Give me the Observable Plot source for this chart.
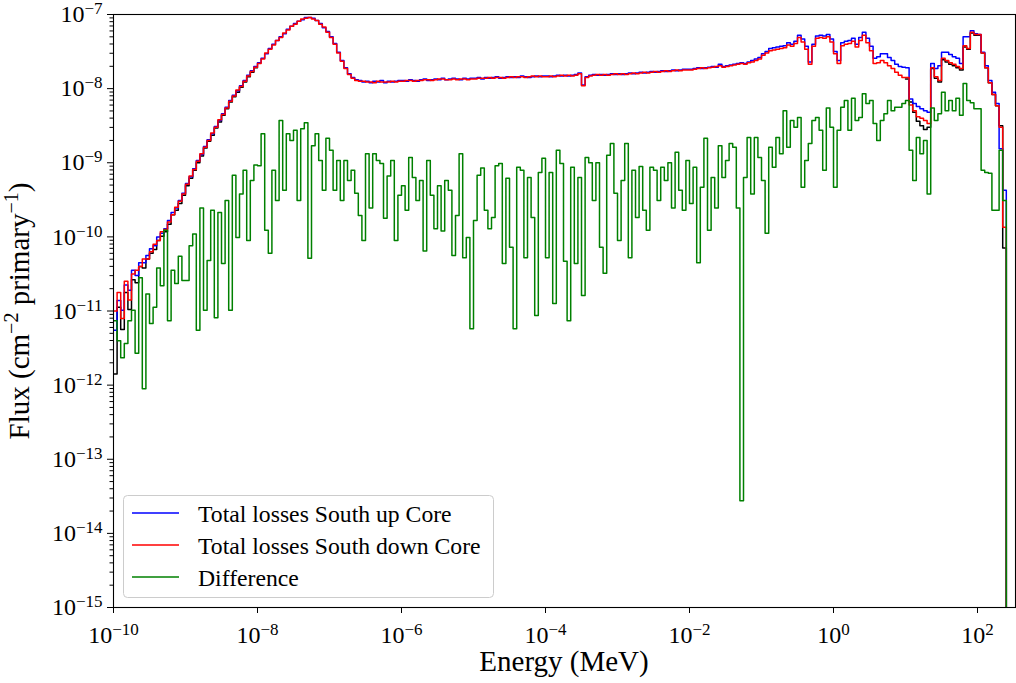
<!DOCTYPE html>
<html><head><meta charset="utf-8">
<script src="https://cdn.jsdelivr.net/npm/d3@7"></script>
<script src="https://cdn.jsdelivr.net/npm/@observablehq/plot@0.6"></script>
<style>
body{margin:0;background:#fff;}
#chart{width:1016px;height:683px;}
</style></head><body><div id="chart"></div>
<script>
// Binning: log10(E / MeV) bin edges start at -10 with width 0.05 decade
const logEStart = -10;
const logEStep = 0.05;

// log10 of flux (cm^-2 primary^-1) per bin
const upCore = [
 -11.26,-10.86,-10.99,-10.65,-10.72,-10.45,-10.52,-10.35,-10.35,-10.25,-10.16,-10.12,-10.00,-9.95,-9.89,-9.78,-9.67,-9.61,-9.51,-9.41,
 -9.28,-9.19,-9.08,-8.97,-8.89,-8.78,-8.69,-8.61,-8.51,-8.43,-8.34,-8.25,-8.16,-8.09,-8.03,-7.96,-7.89,-7.82,-7.76,-7.70,
 -7.65,-7.59,-7.53,-7.46,-7.40,-7.35,-7.30,-7.26,-7.20,-7.16,-7.12,-7.09,-7.07,-7.04,-7.04,-7.05,-7.08,-7.12,-7.18,-7.23,
 -7.30,-7.39,-7.51,-7.62,-7.72,-7.80,-7.85,-7.88,-7.89,-7.91,-7.90,-7.92,-7.90,-7.91,-7.89,-7.92,-7.90,-7.91,-7.90,-7.89,
 -7.89,-7.90,-7.88,-7.89,-7.90,-7.88,-7.87,-7.89,-7.88,-7.87,-7.88,-7.86,-7.88,-7.87,-7.86,-7.87,-7.88,-7.86,-7.87,-7.86,
 -7.86,-7.85,-7.87,-7.85,-7.86,-7.85,-7.84,-7.86,-7.85,-7.84,-7.85,-7.84,-7.85,-7.83,-7.84,-7.85,-7.84,-7.83,-7.84,-7.83,
 -7.83,-7.84,-7.83,-7.82,-7.83,-7.82,-7.83,-7.82,-7.81,-7.79,-7.95,-7.84,-7.82,-7.81,-7.82,-7.81,-7.82,-7.81,-7.80,-7.81,
 -7.80,-7.81,-7.80,-7.79,-7.80,-7.79,-7.78,-7.79,-7.78,-7.77,-7.78,-7.77,-7.76,-7.77,-7.76,-7.75,-7.76,-7.75,-7.74,-7.74,
 -7.74,-7.73,-7.72,-7.73,-7.72,-7.71,-7.70,-7.71,-7.67,-7.70,-7.69,-7.68,-7.67,-7.66,-7.65,-7.66,-7.64,-7.62,-7.60,-7.58,
 -7.53,-7.50,-7.46,-7.45,-7.44,-7.43,-7.42,-7.38,-7.40,-7.36,-7.28,-7.33,-7.43,-7.64,-7.40,-7.29,-7.28,-7.29,-7.27,-7.33,
 -7.50,-7.62,-7.38,-7.36,-7.35,-7.32,-7.40,-7.31,-7.24,-7.32,-7.43,-7.59,-7.57,-7.53,-7.53,-7.58,-7.62,-7.67,-7.70,-7.71,
 -7.72,-8.14,-8.20,-8.24,-8.27,-8.30,-8.32,-7.66,-7.73,-7.69,-7.51,-7.51,-7.54,-7.57,-7.59,-7.66,-7.30,-7.30,-7.22,-7.26,
 -7.27,-7.51,-7.69,-7.89,-8.05,-8.20,-8.81,-9.37
];
const downCore = [
 -11.00,-10.75,-11.10,-10.60,-10.85,-10.50,-10.45,-10.40,-10.30,-10.30,-10.20,-10.10,-10.05,-9.93,-9.90,-9.80,-9.70,-9.60,-9.52,-9.42,
 -9.29,-9.18,-9.09,-8.98,-8.88,-8.79,-8.70,-8.60,-8.52,-8.42,-8.35,-8.26,-8.17,-8.10,-8.02,-7.97,-7.90,-7.83,-7.77,-7.71,
 -7.66,-7.60,-7.52,-7.47,-7.41,-7.35,-7.31,-7.25,-7.21,-7.16,-7.13,-7.09,-7.06,-7.05,-7.04,-7.06,-7.08,-7.13,-7.17,-7.24,
 -7.31,-7.40,-7.52,-7.63,-7.73,-7.81,-7.86,-7.89,-7.90,-7.90,-7.91,-7.91,-7.92,-7.90,-7.91,-7.91,-7.91,-7.90,-7.91,-7.90,
 -7.90,-7.89,-7.89,-7.90,-7.89,-7.89,-7.88,-7.88,-7.89,-7.88,-7.87,-7.87,-7.88,-7.88,-7.87,-7.88,-7.87,-7.87,-7.88,-7.87,
 -7.87,-7.86,-7.86,-7.86,-7.85,-7.86,-7.85,-7.85,-7.86,-7.85,-7.84,-7.85,-7.84,-7.84,-7.85,-7.84,-7.83,-7.84,-7.83,-7.84,
 -7.84,-7.83,-7.84,-7.83,-7.82,-7.83,-7.82,-7.83,-7.82,-7.80,-7.96,-7.85,-7.83,-7.82,-7.81,-7.82,-7.81,-7.82,-7.81,-7.80,
 -7.81,-7.80,-7.81,-7.80,-7.79,-7.80,-7.79,-7.78,-7.79,-7.78,-7.77,-7.78,-7.77,-7.76,-7.77,-7.76,-7.75,-7.76,-7.75,-7.75,
 -7.75,-7.74,-7.73,-7.72,-7.73,-7.72,-7.71,-7.70,-7.69,-7.71,-7.70,-7.69,-7.68,-7.67,-7.66,-7.67,-7.65,-7.64,-7.62,-7.60,
 -7.55,-7.52,-7.49,-7.48,-7.47,-7.46,-7.45,-7.41,-7.43,-7.39,-7.31,-7.37,-7.47,-7.67,-7.43,-7.32,-7.31,-7.32,-7.30,-7.37,
 -7.53,-7.66,-7.42,-7.40,-7.39,-7.36,-7.44,-7.35,-7.28,-7.38,-7.49,-7.66,-7.65,-7.62,-7.65,-7.69,-7.73,-7.78,-7.82,-7.85,
 -7.85,-8.22,-8.30,-8.38,-8.40,-8.43,-8.47,-7.72,-7.84,-7.89,-7.59,-7.62,-7.65,-7.67,-7.70,-7.73,-7.42,-7.46,-7.24,-7.27,
 -7.27,-7.52,-7.72,-7.92,-8.08,-8.23,-8.52,-9.87
];
const difference = [
 -11.13,-11.40,-11.63,-11.44,-11.13,-10.99,-11.57,-10.55,-12.05,-10.77,-11.17,-10.95,-10.42,-10.66,-9.91,-11.13,-10.45,-10.63,-10.26,-10.59,
 -10.59,-10.12,-9.96,-11.26,-9.61,-10.99,-10.32,-9.64,-11.09,-9.67,-10.36,-9.51,-10.99,-9.17,-10.01,-9.42,-9.10,-10.05,-9.24,-9.03,
 -9.04,-8.61,-9.91,-10.22,-9.10,-9.51,-8.43,-9.37,-8.61,-8.70,-8.56,-9.51,-8.54,-8.46,-10.29,-8.77,-8.61,-8.97,-9.37,-8.67,
 -8.83,-9.37,-8.97,-9.51,-8.97,-9.24,-9.10,-9.41,-9.71,-10.05,-8.88,-9.61,-8.88,-8.97,-9.01,-9.75,-9.18,-8.97,-10.05,-9.44,
 -9.31,-9.64,-8.93,-9.20,-9.51,-9.24,-10.19,-8.97,-9.44,-9.89,-9.31,-9.92,-9.24,-9.37,-10.25,-9.71,-8.88,-10.28,-10.01,-11.24,
 -9.78,-9.17,-9.07,-9.64,-9.89,-9.74,-9.04,-9.01,-10.36,-9.21,-10.14,-11.24,-9.06,-9.10,-10.28,-9.20,-9.74,-11.06,-9.13,-8.94,
 -10.28,-9.13,-10.90,-8.83,-9.01,-10.33,-11.13,-9.06,-10.36,-9.20,-10.79,-8.93,-9.00,-9.51,-9.00,-10.14,-10.49,-8.90,-8.74,-9.41,
 -10.05,-9.24,-8.74,-10.28,-9.10,-9.74,-9.05,-9.64,-9.91,-9.06,-9.10,-9.51,-9.06,-9.24,-9.00,-9.61,-8.86,-9.37,-9.64,-8.97,
 -9.55,-9.06,-10.35,-9.33,-8.67,-9.91,-9.20,-9.61,-8.77,-9.20,-8.97,-8.74,-8.79,-9.61,-13.56,-9.20,-8.66,-9.42,-8.66,-8.93,
 -9.24,-9.95,-8.79,-9.06,-8.66,-8.88,-8.30,-8.79,-8.43,-8.52,-8.39,-9.33,-8.97,-8.74,-8.43,-8.39,-8.56,-9.10,-8.26,-8.52,
 -9.33,-8.56,-8.25,-8.16,-8.56,-8.13,-8.43,-8.39,-8.07,-8.20,-8.16,-8.47,-8.70,-8.43,-8.34,-8.16,-8.30,-8.25,-8.25,-8.20,
 -8.16,-8.83,-9.24,-8.66,-8.88,-8.70,-9.42,-8.26,-8.43,-8.34,-8.05,-8.30,-8.16,-8.30,-8.13,-8.36,-7.93,-8.16,-8.19,-8.27,
 -8.27,-9.10,-9.13,-9.14,-9.64,-9.64,-8.83,-9.51
];
// unlabelled black curve (visible only at the low- and high-energy ends)
const blackLowStart = -10;
const blackLow = [
 -11.85,-10.95,-11.25,-10.75,-10.98,-10.58,-10.62,-10.40,-10.42,-10.30,-10.22,-10.17,-10.05,-9.99,-9.93,-9.83,-9.70,-9.64,-9.55,-9.44,
 -9.31,-9.21,-9.10,-9.00,-8.91,-8.80,-8.71,-8.63,-8.53,-8.45,-8.36,-8.27,-8.18,-8.11,-8.05,-7.98,-7.91,-7.84,-7.78,-7.72
];
const blackHighStart = 1.0;
const blackHigh = [
 -7.87,-8.18,-8.32,-8.44,-8.50,-8.55,-8.52,-7.73,-7.86,-7.91,-7.61,-7.64,-7.67,-7.69,-7.72,-7.75,-7.44,-7.47,-7.25,-7.28,
 -7.28,-7.52,-7.72,-7.92,-8.08,-8.23,-8.50,-10.15
];

const seriesNames = ["Total losses South up Core", "Total losses South down Core", "Difference"];
const seriesColors = ["#0000ff", "#ff0000", "#008000"];
const xTicks = [1e-10, 1e-8, 1e-6, 1e-4, 1e-2, 1, 1e2];
const yTicks = [1e-15, 1e-14, 1e-13, 1e-12, 1e-11, 1e-10, 1e-9, 1e-8, 1e-7];
const xLabel = "Energy (MeV)";

const minorYTicks = [];
for (let d = -15; d < -7; d++) for (let m = 2; m <= 9; m++) minorYTicks.push(m * 10 ** d);

function toRows(values, start, name, dropToZero) {
  const rows = values.map((v, i) => ({E: 10 ** (start + i * logEStep), flux: 10 ** v, series: name}));
  const endE = 10 ** (start + values.length * logEStep);
  rows.push({E: endE, flux: 10 ** values[values.length - 1], series: name});
  if (dropToZero) rows.push({E: endE, flux: 1e-20, series: name});
  return rows;
}

const blackRows = toRows(blackLow, blackLowStart, "low", false).concat(toRows(blackHigh, blackHighStart, "high", true));
const upRows = toRows(upCore, logEStart, seriesNames[0], true);
const downRows = toRows(downCore, logEStart, seriesNames[1], true);
const diffRows = toRows(difference, logEStart, seriesNames[2], true);

const FONT = "Liberation Serif";
const lineOpts = {x: "E", y: "flux", curve: "step-after", strokeWidth: 1.5, clip: true};

const chart = Plot.plot({
  width: 1016, height: 683,
  marginLeft: 113, marginRight: 1, marginTop: 14, marginBottom: 76,
  style: {fontFamily: FONT, fontSize: "24px", background: "white", color: "black"},
  x: {type: "log", domain: [1e-10, 337]},
  y: {type: "log", domain: [1e-15, 1e-7]},
  marks: [
    Plot.line(blackRows, {...lineOpts, z: "series", stroke: "black"}),
    Plot.line(upRows, {...lineOpts, stroke: seriesColors[0]}),
    Plot.line(downRows, {...lineOpts, stroke: seriesColors[1]}),
    Plot.line(diffRows, {...lineOpts, stroke: seriesColors[2]}),
    Plot.frame({stroke: "black", strokeWidth: 1.1}),
    Plot.axisX({ticks: xTicks, tickSize: 6, tickPadding: 12, fontSize: 24, label: null,
      tickFormat: d => "10^" + Math.round(Math.log10(d))}),
    Plot.axisY({ticks: yTicks, tickSize: 6, tickPadding: 5, fontSize: 24, label: null,
      tickFormat: d => "10^" + Math.round(Math.log10(d))}),
    Plot.axisY({ticks: minorYTicks, tickSize: 3.5, label: null, tickFormat: () => ""})
  ]
});
document.getElementById("chart").appendChild(chart);

const svg = d3.select(chart);
// superscript exponents on tick labels
svg.selectAll('g[aria-label="x-axis tick label"] text, g[aria-label="y-axis tick label"] text').each(function() {
  const t = this.textContent;
  if (!t.startsWith("10^")) return;
  const exp = t.slice(3).replace("-", "\u2212");
  const sel = d3.select(this);
  sel.text("");
  sel.append("tspan").text("10");
  sel.append("tspan").attr("dy", "-8").attr("font-size", "17px").text(exp);
});

// axis titles
svg.append("text")
  .attr("x", 564).attr("y", 671)
  .attr("text-anchor", "middle").attr("font-family", FONT).attr("font-size", 29)
  .text(xLabel);

const yl = svg.append("text")
  .attr("transform", "translate(29,311) rotate(-90)")
  .attr("text-anchor", "middle").attr("font-family", FONT).attr("font-size", 29);
yl.append("tspan").text("Flux (cm");
yl.append("tspan").attr("dy", -11).attr("font-size", 20).text("\u22122");
yl.append("tspan").attr("dy", 11).text(" primary");
yl.append("tspan").attr("dy", -11).attr("font-size", 20).text("\u22121");
yl.append("tspan").attr("dy", 11).text(")");

// legend
const lg = svg.append("g").attr("text-anchor", "start");
lg.append("rect").attr("x", 123.5).attr("y", 495.5).attr("width", 370).attr("height", 102).attr("rx", 4)
  .attr("fill", "white").attr("fill-opacity", 0.8).attr("stroke", "#cccccc").attr("stroke-width", 1);
const legendY = [513, 545, 577];
seriesNames.forEach((name, i) => {
  lg.append("line").attr("x1", 132).attr("x2", 179).attr("y1", legendY[i]).attr("y2", legendY[i])
    .attr("stroke", seriesColors[i]).attr("stroke-width", 1.5);
  lg.append("text").attr("x", 198).attr("y", legendY[i] + 8.5).attr("text-anchor", "start")
    .attr("font-family", FONT).attr("font-size", 23.7).text(name);
});
</script></body></html>
